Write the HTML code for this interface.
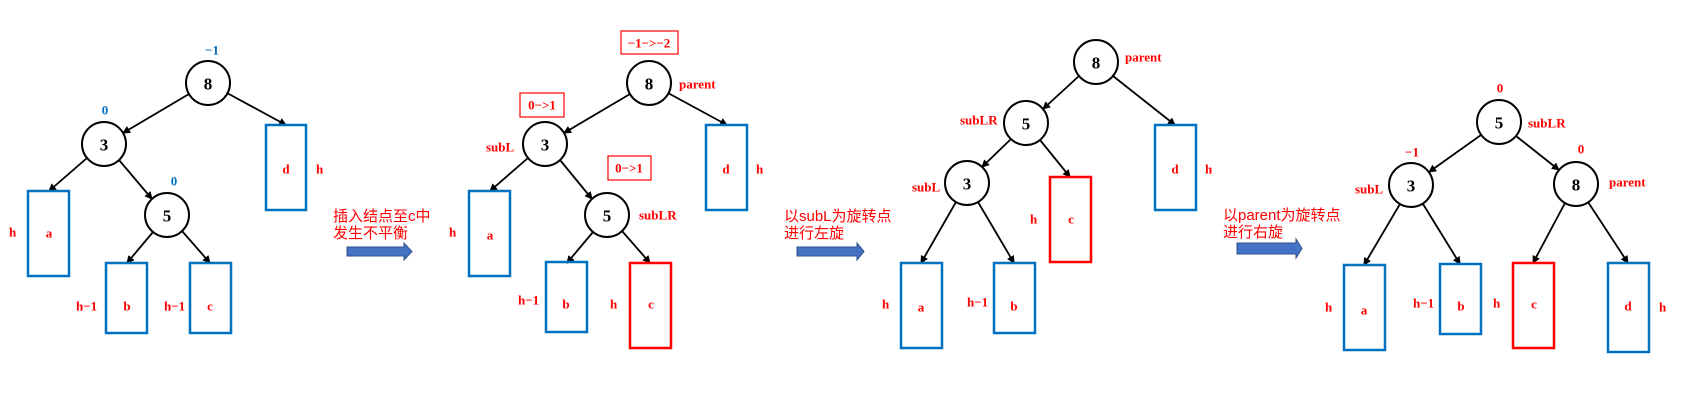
<!DOCTYPE html>
<html><head><meta charset="utf-8"><style>
html,body{margin:0;padding:0;background:#fff;}
svg{display:block;}
.n{font:bold 17px "Liberation Serif",serif;fill:#000;text-anchor:middle;dominant-baseline:central;}
.r{font:bold 13px "Liberation Serif","Noto Serif CJK SC",serif;fill:#f00;dominant-baseline:central;}
.bl{font:bold 13px "Liberation Serif",serif;fill:#0070c0;text-anchor:middle;dominant-baseline:central;}
.cj{font:15px "Liberation Sans","Noto Sans CJK SC",sans-serif;fill:#f00;}
.m{text-anchor:middle;}
.bb{fill:none;stroke:#0070c0;stroke-width:2.5;}
.rb{fill:none;stroke:#f00;stroke-width:2.5;}
.rl{fill:none;stroke:#f00;stroke-width:1.2;}
circle{fill:#fff;stroke:#000;stroke-width:2;}
line{stroke:#000;stroke-width:1.8;marker-end:url(#ah);}
</style></head><body>
<svg width="1681" height="410" viewBox="0 0 1681 410" xmlns="http://www.w3.org/2000/svg">
<defs><marker id="ah" markerWidth="8" markerHeight="8" refX="7" refY="4" orient="auto" markerUnits="userSpaceOnUse"><path d="M0,0 L8,4 L0,8 z" fill="#000"/></marker></defs>

<!-- Panel 1 -->
<line x1="189" y1="94" x2="123" y2="133"/>
<line x1="227" y1="93" x2="286" y2="125"/>
<line x1="87" y1="158" x2="49" y2="191"/>
<line x1="119" y1="160" x2="152" y2="199"/>
<line x1="153" y1="232" x2="127" y2="263"/>
<line x1="182" y1="231" x2="210" y2="263"/>
<circle cx="208" cy="83" r="22"/><text class="n" x="208" y="84">8</text>
<circle cx="104" cy="144" r="22"/><text class="n" x="104" y="145">3</text>
<circle cx="167" cy="215" r="22"/><text class="n" x="167" y="216">5</text>
<text class="bl" x="212" y="50">−1</text>
<text class="bl" x="105" y="110">0</text>
<text class="bl" x="174" y="181">0</text>
<rect class="bb" x="266" y="125" width="40" height="85"/><text class="r m" x="286" y="169">d</text><text class="r" x="316" y="169">h</text>
<rect class="bb" x="28" y="191" width="41" height="85"/><text class="r m" x="49" y="233">a</text><text class="r" x="9" y="232">h</text>
<rect class="bb" x="106" y="263" width="41" height="70"/><text class="r m" x="127" y="306">b</text><text class="r" x="76" y="306">h−1</text>
<rect class="bb" x="190" y="263" width="41" height="70"/><text class="r m" x="210" y="306">c</text><text class="r" x="164" y="306">h−1</text>
<text class="cj" x="333" y="221">插入结点至c中</text>
<text class="cj" x="333" y="238">发生不平衡</text>
<path d="M347,247 H404 V243 L412,251.5 L404,260 V256 H347 Z" fill="#4472c4" stroke="#2f528f" stroke-width="1"/>

<!-- Panel 2 -->
<line x1="630" y1="94" x2="564" y2="133"/>
<line x1="668" y1="93" x2="727" y2="125"/>
<line x1="528" y1="158" x2="490" y2="191"/>
<line x1="560" y1="160" x2="592" y2="199"/>
<line x1="593" y1="232" x2="567" y2="263"/>
<line x1="622" y1="231" x2="650" y2="263"/>
<circle cx="649" cy="83" r="22"/><text class="n" x="649" y="84">8</text>
<circle cx="545" cy="144" r="22"/><text class="n" x="545" y="145">3</text>
<circle cx="607" cy="215" r="22"/><text class="n" x="607" y="216">5</text>
<rect class="rl" x="621" y="31" width="57" height="23"/><text class="r m" x="649" y="43">−1−&gt;−2</text>
<rect class="rl" x="520" y="93" width="44" height="24"/><text class="r m" x="542" y="105">0−&gt;1</text>
<rect class="rl" x="608" y="156" width="43" height="24"/><text class="r m" x="629" y="168">0−&gt;1</text>
<text class="r" x="679" y="84">parent</text>
<text class="r" x="486" y="147">subL</text>
<text class="r" x="639" y="215">subLR</text>
<rect class="bb" x="706" y="125" width="41" height="85"/><text class="r m" x="726" y="169">d</text><text class="r" x="756" y="169">h</text>
<rect class="bb" x="469" y="191" width="41" height="85"/><text class="r m" x="490" y="235">a</text><text class="r" x="449" y="232">h</text>
<rect class="bb" x="546" y="262" width="41" height="70"/><text class="r m" x="566" y="304">b</text><text class="r" x="518" y="300">h−1</text>
<rect class="rb" x="630" y="263" width="41" height="85"/><text class="r m" x="651" y="304">c</text><text class="r" x="610" y="304">h</text>
<text class="cj" x="784" y="221">以subL为旋转点</text>
<text class="cj" x="784" y="238">进行左旋</text>
<path d="M797,247 H857 V243 L864,251.5 L857,260 V256 H797 Z" fill="#4472c4" stroke="#2f528f" stroke-width="1"/>

<!-- Panel 3 -->
<line x1="1079" y1="76" x2="1043" y2="109"/>
<line x1="1113" y1="76" x2="1175" y2="125"/>
<line x1="1011" y1="139" x2="982" y2="167"/>
<line x1="1040" y1="140" x2="1070" y2="177"/>
<line x1="956" y1="202" x2="921" y2="263"/>
<line x1="978" y1="202" x2="1014" y2="263"/>
<circle cx="1096" cy="62" r="22"/><text class="n" x="1096" y="63">8</text>
<circle cx="1026" cy="123" r="22"/><text class="n" x="1026" y="124">5</text>
<circle cx="967" cy="183" r="22"/><text class="n" x="967" y="184">3</text>
<text class="r" x="1125" y="57">parent</text>
<text class="r" x="960" y="120">subLR</text>
<text class="r" x="912" y="187">subL</text>
<rect class="bb" x="1155" y="125" width="41" height="85"/><text class="r m" x="1175" y="169">d</text><text class="r" x="1205" y="169">h</text>
<rect class="rb" x="1050" y="177" width="41" height="85"/><text class="r m" x="1071" y="219">c</text><text class="r" x="1030" y="219">h</text>
<rect class="bb" x="901" y="263" width="41" height="85"/><text class="r m" x="921" y="307">a</text><text class="r" x="882" y="304">h</text>
<rect class="bb" x="994" y="263" width="41" height="70"/><text class="r m" x="1014" y="306">b</text><text class="r" x="967" y="302">h−1</text>
<text class="cj" x="1223" y="220">以parent为旋转点</text>
<text class="cj" x="1223" y="237">进行右旋</text>
<path d="M1237,243 H1296 V239 L1302,248.5 L1296,258 V254 H1237 Z" fill="#4472c4" stroke="#2f528f" stroke-width="1"/>

<!-- Panel 4 -->
<line x1="1481" y1="135" x2="1429" y2="172"/>
<line x1="1516" y1="136" x2="1559" y2="170"/>
<line x1="1400" y1="204" x2="1364" y2="265"/>
<line x1="1423" y1="204" x2="1460" y2="264"/>
<line x1="1565" y1="203" x2="1533" y2="263"/>
<line x1="1588" y1="202" x2="1628" y2="263"/>
<circle cx="1499" cy="122" r="22"/><text class="n" x="1499" y="123">5</text>
<circle cx="1411" cy="185" r="22"/><text class="n" x="1411" y="186">3</text>
<circle cx="1576" cy="184" r="22"/><text class="n" x="1576" y="185">8</text>
<text class="r m" x="1500" y="88">0</text>
<text class="r m" x="1412" y="152">−1</text>
<text class="r m" x="1581" y="149">0</text>
<text class="r" x="1528" y="123">subLR</text>
<text class="r" x="1355" y="189">subL</text>
<text class="r" x="1609" y="182">parent</text>
<rect class="bb" x="1344" y="265" width="41" height="85"/><text class="r m" x="1364" y="310">a</text><text class="r" x="1325" y="307">h</text>
<rect class="bb" x="1440" y="264" width="41" height="70"/><text class="r m" x="1461" y="306">b</text><text class="r" x="1413" y="303">h−1</text>
<rect class="rb" x="1513" y="263" width="41" height="85"/><text class="r m" x="1534" y="304">c</text><text class="r" x="1493" y="303">h</text>
<rect class="bb" x="1608" y="263" width="41" height="89"/><text class="r m" x="1628" y="306">d</text><text class="r" x="1659" y="307">h</text>
</svg>
</body></html>
